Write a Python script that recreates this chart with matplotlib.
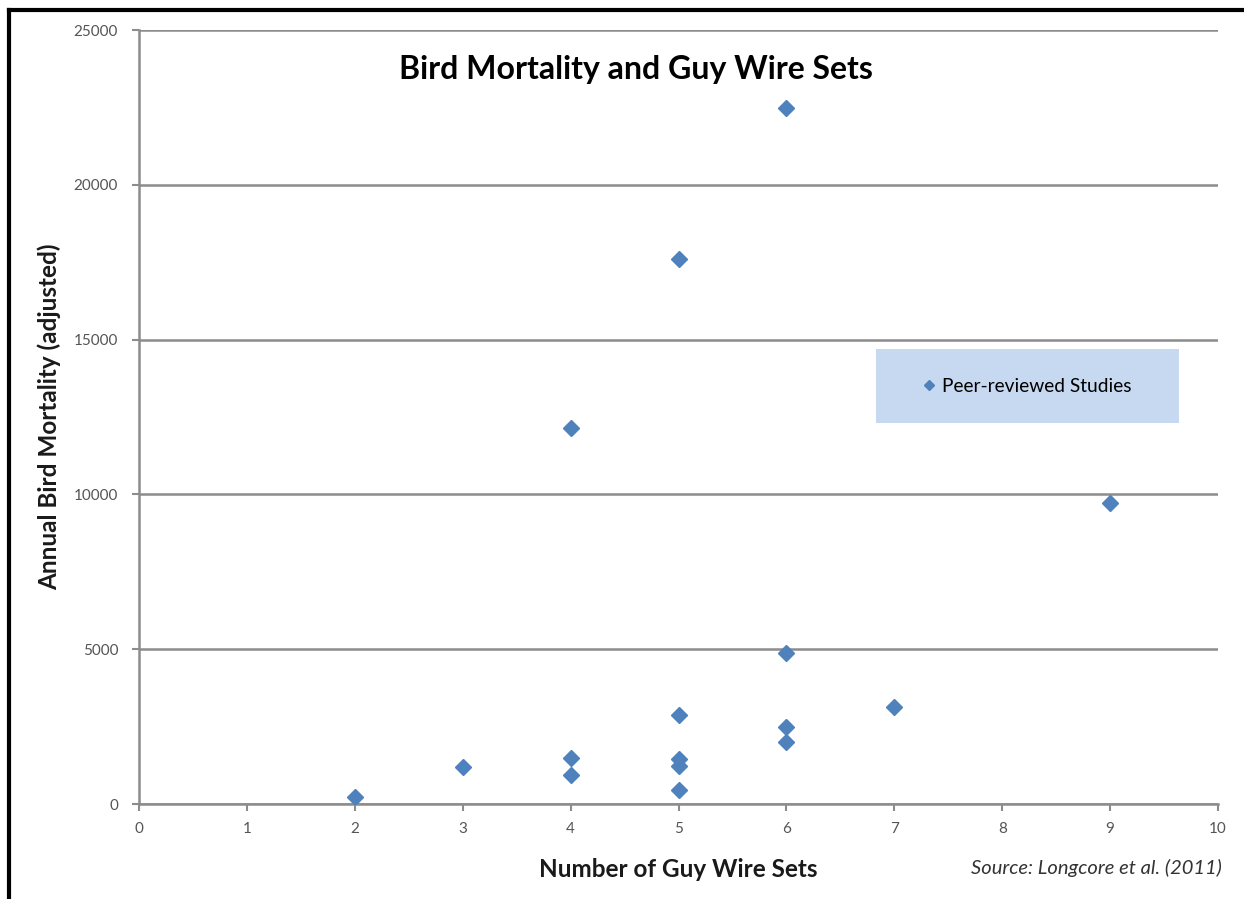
import matplotlib.pyplot as plt
from matplotlib.patches import Rectangle
from matplotlib.lines import Line2D

plt.rcParams['font.family'] = ['Lato', 'DejaVu Sans']

guy_wire_sets = [2, 3, 4, 4, 4, 5, 5, 5, 5, 5, 6, 6, 6, 6, 7, 9]
bird_mortality = [220, 1200, 1490, 950, 12150, 17600, 2860, 1450, 1220, 440,
                  22480, 4870, 2480, 2000, 3120, 9720]

x_ticks = list(range(0, 11))
y_ticks = [0, 5000, 10000, 15000, 20000, 25000]

blue = '#4f81bd'
grid_grey = '#8c8c8c'

fig = plt.figure(figsize=(12.44, 8.99), dpi=100)
ax = fig.add_axes([139 / 1244, 1 - 804 / 899, 1079 / 1244, 774 / 899])

ax.plot(guy_wire_sets, bird_mortality, linestyle='none', marker='D',
        markersize=8, color=blue, zorder=3)

ax.set_xlim(0, 10)
ax.set_ylim(0, 25000)
ax.set_xticks(x_ticks)
ax.set_yticks(y_ticks)
ax.tick_params(axis='both', colors=grid_grey, labelcolor='#555555',
               labelsize=11, length=5, width=1.5, direction='out')
ax.tick_params(axis='x', pad=8)
ax.tick_params(axis='y', pad=10)
ax.yaxis.grid(True, color=grid_grey, linewidth=1.8)
ax.set_axisbelow(True)
for side in ['top', 'right']:
    ax.spines[side].set_visible(False)
for side in ['left', 'bottom']:
    ax.spines[side].set_color(grid_grey)
    ax.spines[side].set_linewidth(1.8)

ax.set_xlabel('Number of Guy Wire Sets', fontsize=17.5, fontweight='bold',
              color='#1a1a1a', labelpad=16)
ax.set_ylabel('Annual Bird Mortality (adjusted)', fontsize=17.5,
              fontweight='bold', color='#1a1a1a', labelpad=9)

fig.text(636 / 1244, 1 - 70 / 899, 'Bird Mortality and Guy Wire Sets',
         fontsize=23, fontweight='bold', ha='center', va='center')
fig.text(1222 / 1244, 1 - 868 / 899, 'Source: Longcore et al. (2011)',
         fontsize=14.5, style='italic', color='#333333', ha='right', va='center')

# legend box
ax.add_patch(Rectangle((0.683, 0.492), 0.281, 0.0956, transform=ax.transAxes,
                       facecolor='#c6d9f0', edgecolor='none', zorder=4))
handle = Line2D([], [], linestyle='none', marker='D', markersize=5, color=blue)
leg = ax.legend([handle], ['Peer-reviewed Studies'], loc='center',
                bbox_to_anchor=(0.8235, 0.540), frameon=False, fontsize=13.8,
                handlelength=0.6, handletextpad=0.4)
leg.set_zorder(5)

# black frame lines of the original picture
fig.add_artist(Line2D([9 / 1244, 9 / 1244], [0, 1 - 10 / 899],
                      color='black', linewidth=3, transform=fig.transFigure))
fig.add_artist(Line2D([9 / 1244, 1], [1 - 10 / 899, 1 - 10 / 899],
                      color='black', linewidth=3, transform=fig.transFigure))

fig.savefig('out.png', dpi=100)
